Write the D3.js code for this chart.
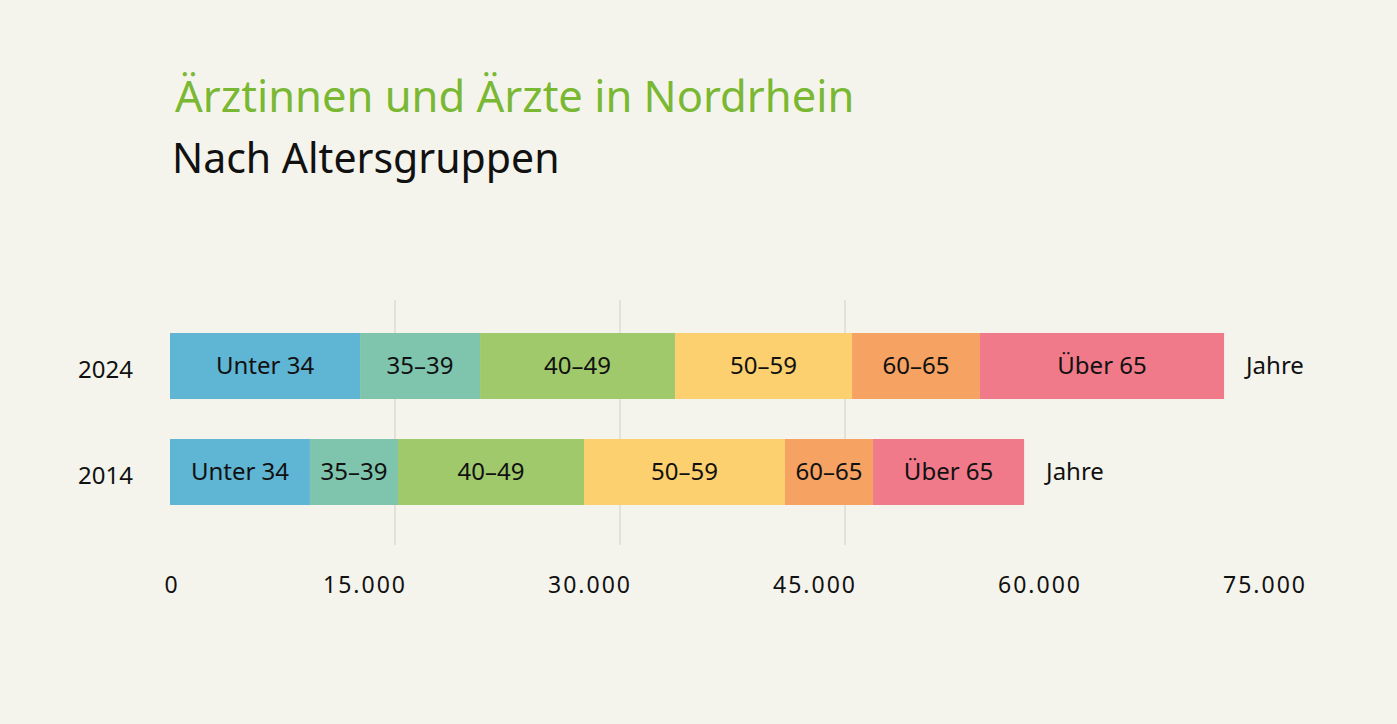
<!DOCTYPE html>
<html><head><meta charset="utf-8">
<script src="https://cdn.jsdelivr.net/npm/d3@7"></script>
<style>body{margin:0;background:#f4f4ec}</style>
</head><body>
<svg width="1397" height="724"></svg>
<script>
var years = ["2024","2014"]
var groups = ["Unter 34","35–39","40–49","50–59","60–65","Über 65"]
var values2024 = [12670,8000,13000,11800,8530,16270]
var values2014 = [9330,5870,12400,13400,5870,10070]
var colors = ["#5fb5d4","#7fc4ad","#a0c96c","#fdd06f","#f5a263","#f07a8a"]
var ticks = [0,15000,30000,45000,60000,75000]

var svg = d3.select("svg")
svg.append("rect").attr("width",1397).attr("height",724).attr("fill","#f4f4ec")

var font = "Noto Sans, sans-serif"
var x = d3.scaleLinear().domain([0,75000]).range([170,1295])
var y = d3.scaleBand().domain(years).range([333,505]).paddingInner(40/106).paddingOuter(0)

svg.append("text").text("Ärztinnen und Ärzte in Nordrhein")
  .attr("x",175).attr("y",112).attr("font-family",font).attr("font-size",43.5).attr("fill","#7ab833")
svg.append("text").text("Nach Altersgruppen")
  .attr("x",172).attr("y",173).attr("font-family",font).attr("font-size",41).attr("fill","#111")

// faint gridlines
svg.selectAll(".grid").data(ticks.slice(1,4)).enter().append("line")
  .attr("x1",function(d){return x(d)}).attr("x2",function(d){return x(d)})
  .attr("y1",300).attr("y2",545).attr("stroke","#dcdcd4").attr("stroke-width",1.5)

var data = {"2024":values2024,"2014":values2014}
years.forEach(function(yr){
  var vals = data[yr], start = 0
  var g = svg.append("g")
  vals.forEach(function(v,i){
    g.append("rect").attr("x",x(start)).attr("y",y(yr)).attr("width",x(start+v)-x(start))
      .attr("height",y.bandwidth()).attr("fill",colors[i])
    g.append("text").text(groups[i]).attr("x",x(start+v/2)).attr("y",y(yr)+y.bandwidth()/2+8)
      .attr("text-anchor","middle").attr("font-family",font).attr("font-size",24).attr("fill","#111")
    start += v
  })
  svg.append("text").text("Jahre").attr("x",x(start)+22).attr("y",y(yr)+y.bandwidth()/2+8)
    .attr("font-family",font).attr("font-size",24).attr("fill","#111")
  svg.append("text").text(yr).attr("x",133).attr("y",y(yr)+y.bandwidth()/2+12)
    .attr("text-anchor","end").attr("font-family",font).attr("font-size",24).attr("fill","#111")
})

var fmt = function(d){return d3.format(",")(d).replace(/,/g,".")}
svg.selectAll(".tick").data(ticks).enter().append("text")
  .text(fmt)
  .attr("x",function(d){return d==0 ? 172 : x(d)-30})
  .attr("y",593).attr("text-anchor","middle").attr("font-family",font).attr("font-size",23)
  .attr("letter-spacing",2).attr("fill","#111")
</script>
</body></html>
